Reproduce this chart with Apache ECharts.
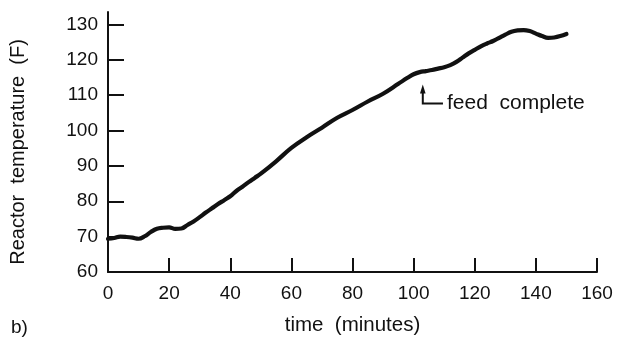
<!DOCTYPE html>
<html>
<head>
<meta charset="utf-8">
<title>Reactor temperature</title>
<script src="https://cdn.jsdelivr.net/npm/echarts@6/dist/echarts.min.js"></script>
<style>
  html, body { margin: 0; padding: 0; background: #fff; }
  #chart { width: 629px; height: 341px; }
</style>
</head>
<body>
<div id="chart"></div>
<script>
// Reactor temperature during a batch run, sampled from the recorder trace.
const timeMinutes = [
  0, 2, 4, 6, 8, 10, 12, 14, 16, 18, 20, 22, 24, 26, 28, 30, 32, 34, 36, 38,
  40, 42, 44, 46, 48, 50, 55, 60, 65, 70, 75, 80, 85, 90, 95, 98, 100, 102,
  104, 106, 108, 110, 112, 114, 116, 118, 120, 122, 124, 126, 128, 130, 132,
  134, 136, 138, 140, 142, 144, 146, 148, 150
];
const temperatureF = [
  69.4, 69.6, 70.0, 69.9, 69.7, 69.4, 70.1, 71.3, 72.2, 72.5, 72.6, 72.2, 72.3,
  73.3, 74.3, 75.5, 76.8, 78.0, 79.2, 80.3, 81.4, 82.9, 84.1, 85.4, 86.6, 87.8,
  91.3, 95.1, 98.1, 100.8, 103.6, 105.8, 108.2, 110.4, 113.2, 114.9, 115.9,
  116.5, 116.8, 117.1, 117.5, 117.9, 118.5, 119.4, 120.6, 121.8, 122.8, 123.8,
  124.6, 125.3, 126.2, 127.1, 127.9, 128.3, 128.4, 128.1, 127.4, 126.7, 126.2,
  126.3, 126.7, 127.3
];
const xTicks = [0, 20, 40, 60, 80, 100, 120, 140, 160];
const yTicks = [60, 70, 80, 90, 100, 110, 120, 130];

// "feed complete" callout: arrow from below the curve, label to the right
const feedNote = { text: 'feed  complete', time: 103, tipTemp: 113.0, elbowTemp: 107.6, endTime: 109.6 };

const FONT = '"Liberation Sans", Arial, Helvetica, sans-serif';
const INK = '#111';

const chart = echarts.init(document.getElementById('chart'), null, { renderer: 'canvas' });

chart.setOption({
  backgroundColor: '#fff',
  animation: false,
  grid: { left: 107, right: 32, top: 12, bottom: 68, containLabel: false },
  xAxis: {
    type: 'value',
    min: 0, max: 160, interval: 20,
    name: 'time  (minutes)',
    nameLocation: 'middle',
    nameGap: 43,
    nameTextStyle: { color: INK, fontFamily: FONT, fontSize: 20.5 },
    axisLine: { show: true, lineStyle: { color: INK, width: 2 } },
    axisTick: { show: true, inside: true, length: 14, lineStyle: { color: INK, width: 2 }, customValues: xTicks },
    axisLabel: { color: INK, fontFamily: FONT, fontSize: 19, margin: 12, customValues: xTicks },
    splitLine: { show: false }
  },
  yAxis: {
    type: 'value',
    min: 60, max: 133.5,
    name: 'Reactor  temperature  (F)',
    nameLocation: 'middle',
    nameGap: 80,
    nameRotate: 90,
    nameTextStyle: { color: INK, fontFamily: FONT, fontSize: 20, padding: [0, 20, 0, 0] },
    axisLine: { show: true, lineStyle: { color: INK, width: 2 } },
    axisTick: { show: true, inside: true, length: 16, lineStyle: { color: INK, width: 2 }, customValues: yTicks },
    axisLabel: { color: INK, fontFamily: FONT, fontSize: 19, margin: 10, customValues: yTicks },
    splitLine: { show: false }
  },
  series: [{
    type: 'line',
    data: timeMinutes.map((t, i) => [t, temperatureF[i]]),
    smooth: 0.4,
    showSymbol: false,
    lineStyle: { color: INK, width: 4.2, cap: 'round', join: 'round' }
  }]
});

// Callout drawn in data coordinates, converted to pixels by the chart itself
const tip = chart.convertToPixel({ gridIndex: 0 }, [feedNote.time, feedNote.tipTemp]);
const elbow = chart.convertToPixel({ gridIndex: 0 }, [feedNote.time, feedNote.elbowTemp]);
const end = chart.convertToPixel({ gridIndex: 0 }, [feedNote.endTime, feedNote.elbowTemp]);

chart.setOption({
  graphic: [
    {
      type: 'polyline',
      shape: { points: [[tip[0], tip[1] + 5], elbow, end] },
      style: { stroke: INK, lineWidth: 2, fill: null }
    },
    {
      type: 'polygon',
      shape: { points: [[tip[0], tip[1]], [tip[0] - 2.8, tip[1] + 9], [tip[0] + 2.8, tip[1] + 9]] },
      style: { fill: INK }
    },
    {
      type: 'text',
      x: end[0] + 4, y: elbow[1],
      style: { text: feedNote.text, font: '21px ' + FONT, fill: INK, verticalAlign: 'middle', align: 'left' }
    },
    {
      type: 'text',
      x: 11, y: 328,
      style: { text: 'b)', font: '19px ' + FONT, fill: INK, verticalAlign: 'middle', align: 'left' }
    }
  ]
});
</script>
</body>
</html>
